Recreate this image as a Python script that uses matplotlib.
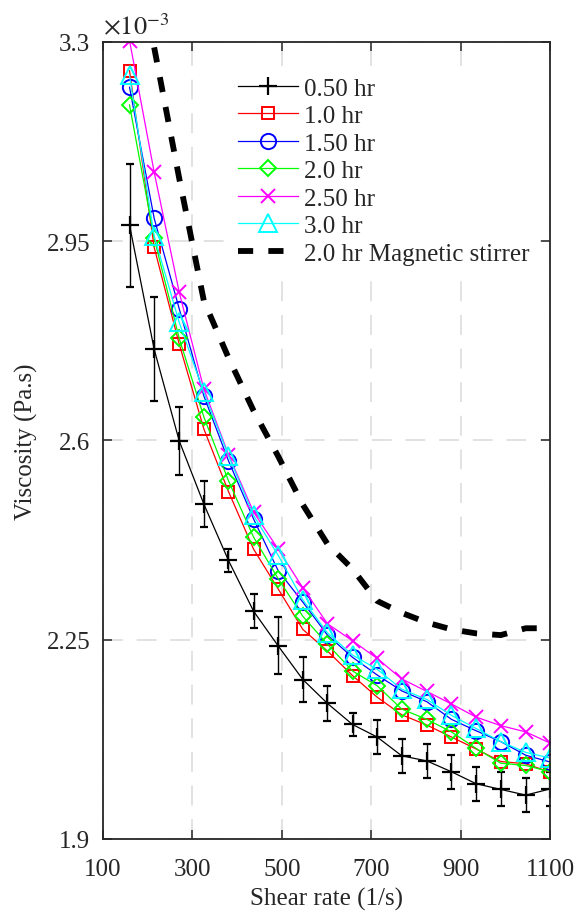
import numpy as np
import matplotlib.pyplot as plt
from matplotlib.ticker import FuncFormatter

plt.rcParams['font.family'] = ['Liberation Serif', 'DejaVu Serif']
plt.rcParams['mathtext.fontset'] = 'stix'

#%%
# shear rate (1/s) and viscosity in units of 1e-3 Pa.s
shear = [160, 215, 271, 326, 381, 437, 492, 547, 602, 658, 713, 768, 824, 879, 934, 989, 1045, 1100]

v_050 = [2.978, 2.760, 2.599, 2.488, 2.389, 2.300, 2.239, 2.180, 2.138, 2.101, 2.079, 2.046,
         2.037, 2.018, 1.997, 1.987, 1.977, 1.988]
e_050 = [0.108, 0.091, 0.060, 0.040, 0.020, 0.030, 0.050, 0.040, 0.030, 0.020, 0.030, 0.030,
         0.030, 0.030, 0.030, 0.030, 0.030, 0.030]
v_100 = [3.249, 2.939, 2.769, 2.620, 2.510, 2.409, 2.339, 2.268, 2.230, 2.187, 2.149, 2.118,
         2.100, 2.079, 2.058, 2.036, 2.032, 2.017]
v_150 = [3.220, 2.990, 2.831, 2.678, 2.564, 2.462, 2.371, 2.316, 2.258, 2.219, 2.188, 2.160,
         2.141, 2.110, 2.090, 2.071, 2.047, 2.035]
v_200 = [3.189, 2.955, 2.779, 2.641, 2.529, 2.430, 2.357, 2.291, 2.242, 2.195, 2.169, 2.128,
         2.110, 2.088, 2.059, 2.033, 2.029, 2.018]
v_250 = [3.302, 3.071, 2.860, 2.690, 2.575, 2.474, 2.409, 2.341, 2.278, 2.248, 2.217, 2.181,
         2.159, 2.137, 2.114, 2.099, 2.088, 2.068]
v_300 = [3.241, 2.959, 2.807, 2.684, 2.573, 2.468, 2.398, 2.320, 2.262, 2.223, 2.198, 2.163,
         2.145, 2.117, 2.094, 2.071, 2.052, 2.042]

shear_mag = [215, 271, 326, 381, 437, 492, 547, 602, 658, 713, 768, 824, 879, 934, 989, 1045, 1100]
v_mag = [3.290, 3.060, 2.845, 2.745, 2.652, 2.572, 2.487, 2.418, 2.374, 2.318, 2.297, 2.280,
         2.268, 2.261, 2.258, 2.270, 2.270]

labels = ['0.50 hr', '1.0 hr', '1.50 hr', '2.0 hr', '2.50 hr', '3.0 hr', '2.0 hr Magnetic stirrer']

scale = 1e-3
ink = '#262626'

#%%
fig = plt.figure(figsize=(5.8, 9.2), dpi=100)
ax = fig.add_axes([0.177, 0.087, 0.772, 0.8666])

handles = []
eb = ax.errorbar(shear, np.array(v_050) * scale, yerr=np.array(e_050) * scale,
                 fmt='-+', color='k', lw=0.9, ms=12.5, mew=1.6, elinewidth=1.0, capsize=3,
                 capthick=1.0)
handles.append(eb[0])

series = [(v_100, '#ff0000', 's', 9.2), (v_150, '#0000ff', 'o', 11.0),
          (v_200, '#00ff00', 'D', 8.3), (v_250, '#ff00ff', 'x', 9.4),
          (v_300, '#00ffff', '^', 12.5)]
for vals, col, mk, ms in series:
    h, = ax.plot(shear, np.array(vals) * scale, '-', marker=mk, color=col, lw=0.9, ms=ms,
                 mew=1.4, mfc='none')
    handles.append(h)

h, = ax.plot(shear_mag, np.array(v_mag) * scale, color='k', lw=4.2, dashes=(2.6, 2.6))
handles.append(h)

ax.set_xlim(100, 1100)
ax.set_ylim(1.9e-3, 3.3e-3)
ax.set_xticks([100, 300, 500, 700, 900, 1100])
ax.set_yticks(np.array([1.9, 2.25, 2.6, 2.95, 3.3]) * scale)
ax.yaxis.set_major_formatter(FuncFormatter(lambda v, p: f'{v / scale:g}'))

ax.grid(True, color='#dadada', linestyle=(0, (13, 9)), linewidth=1.1)
ax.set_axisbelow(True)
ax.tick_params(direction='in', top=True, right=True, length=6.5, width=1.1,
               labelsize=18, colors=ink)
ax.tick_params(axis='x', pad=14)
ax.tick_params(axis='y', pad=9)
for s in ax.spines.values():
    s.set_linewidth(1.3)
    s.set_color(ink)

ax.set_xlabel('Shear rate (1/s)', fontsize=18, color=ink, labelpad=5)
ax.set_ylabel('Viscosity (Pa.s)', fontsize=18, color=ink, labelpad=6)
ax.text(0.0, 1.009, r'$\times10^{-3}$', transform=ax.transAxes, fontsize=19,
        ha='left', va='baseline', color=ink)

leg = ax.legend(handles, labels, loc='upper left', bbox_to_anchor=(0.285, 0.965),
                fontsize=18, frameon=True, facecolor='white', edgecolor='none',
                framealpha=1, handlelength=2.4, labelspacing=0.2, borderaxespad=0,
                borderpad=0.3, handletextpad=0.25, fancybox=False)
for t in leg.get_texts():
    t.set_color(ink)

fig.savefig('out.png', dpi=100)
